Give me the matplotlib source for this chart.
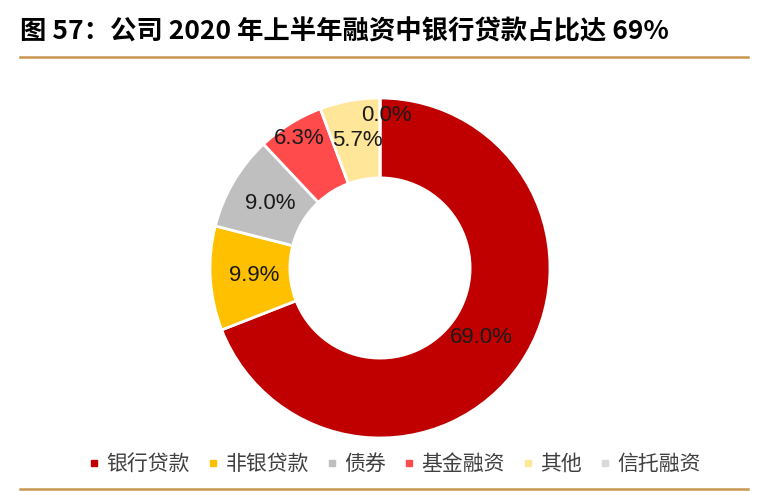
import matplotlib.pyplot as plt
from matplotlib.lines import Line2D
import numpy as np

plt.rcParams['font.family'] = ['Noto Sans CJK SC', 'DejaVu Sans']

# 数据
labels = ['银行贷款', '非银贷款', '债券', '基金融资', '其他', '信托融资']
values = [69.0, 9.9, 9.0, 6.3, 5.7, 0.0]
colors = ['#C00000', '#FFC000', '#BFBFBF', '#FF4B4B', '#FFE699', '#D9D9D9']
title = '图 57：公司 2020 年上半年融资中银行贷款占比达 69%'

W, H = 761, 491
fig = plt.figure(figsize=(W / 100, H / 100), dpi=100)

# 圆环位置（像素）
cx, cy, R = 380, 268, 170
ax = fig.add_axes([(cx - R) / W, (H - cy - R) / H, 2 * R / W, 2 * R / H])

wedges, _ = ax.pie(values, colors=colors, startangle=90, counterclock=False,
                   radius=1.0, wedgeprops=dict(width=0.47, edgecolor='white', linewidth=2))
ax.set_xlim(-1, 1)
ax.set_ylim(-1, 1)
ax.set_aspect('equal')
ax.axis('off')

# 数据标签
dist = [0.72, 0.74, 0.75, 0.90, 0.76, 0.90]
for i, w in enumerate(wedges):
    ang = np.deg2rad((w.theta1 + w.theta2) / 2)
    x = dist[i] * np.cos(ang)
    y = dist[i] * np.sin(ang)
    if values[i] == 0:
        x += 0.04
    ax.text(x, y, f'{values[i]:.1f}%', ha='center', va='center', fontsize=16,
            family=['Liberation Sans', 'DejaVu Sans'], color='#1a1a1a')

# 标题
fig.text(20 / W, 1 - 32 / H, title, fontsize=19, fontweight='bold', ha='left', va='center')

# 上下分隔线
line_color = '#C8964E'
fig.add_artist(Line2D([20 / W, 748 / W], [1 - 57 / H, 1 - 57 / H], color=line_color, lw=1.8))
fig.add_artist(Line2D([20 / W, 748 / W], [1 - 489 / H, 1 - 489 / H], color=line_color, lw=1.8))

# 图例
handles = [Line2D([], [], marker='s', linestyle='none', markersize=4,
                  markerfacecolor=c, markeredgecolor=c) for c in colors]
fig.legend(handles, labels, loc='center', bbox_to_anchor=(395 / W, 1 - 464 / H),
           ncol=6, frameon=False, fontsize=15, handlelength=0.5, handletextpad=0.35,
           columnspacing=0.85, labelcolor='#404040')

fig.savefig('out.png', dpi=100)
